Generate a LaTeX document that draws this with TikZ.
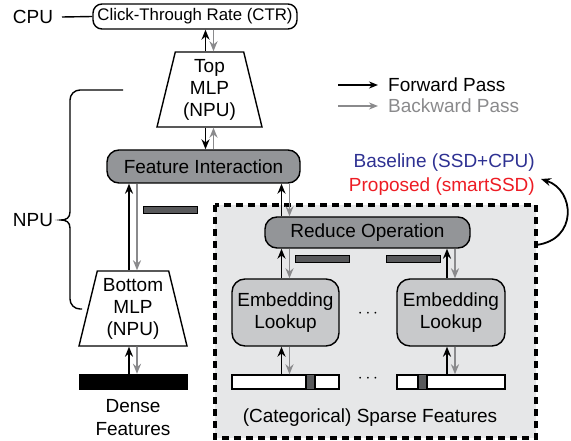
\documentclass[tikz,border=0pt]{standalone}
\usepackage{fontspec}
\setmainfont{Liberation Sans}
\usetikzlibrary{arrows.meta,shapes.geometric,calc}
\definecolor{bwd}{RGB}{138,138,140}
\definecolor{opgray}{RGB}{147,149,152}
\definecolor{embgray}{RGB}{200,201,203}
\definecolor{boxbg}{RGB}{230,231,232}
\definecolor{bargray}{RGB}{88,89,91}
\definecolor{baseblue}{RGB}{46,49,146}
\definecolor{propred}{RGB}{237,28,36}
\tikzset{
  fwd/.style={draw=black,line width=1.8pt,-{Stealth[length=10pt,width=8pt]}},
  bkw/.style={draw=bwd,line width=1.8pt,-{Stealth[length=10pt,width=8pt]}},
  opbox/.style={draw,line width=1.4pt,rounded corners=12pt,fill=opgray,inner sep=0pt},
  embbox/.style={draw,line width=1.4pt,rounded corners=13pt,fill=embgray,inner sep=0pt,align=center},
  mlp/.style={draw,line width=1.4pt,fill=white,trapezium,trapezium stretches body,
    trapezium angle=73.3,minimum height=75pt,inner sep=0pt,align=center},
  gradbar/.style={draw,line width=1pt,fill=bargray,minimum width=54pt,minimum height=7pt,inner sep=0pt},
  featbar/.style={draw,line width=1.4pt,fill=white,minimum width=107pt,minimum height=14pt,inner sep=0pt},
}
\newcommand{\fsz}{\fontsize{19}{22}\selectfont}
\begin{document}
\begin{tikzpicture}[x=1pt,y=-1pt,font=\fsz]
\useasboundingbox (0,0) rectangle (571,441);
% sparse part (SSD side)
\draw[line width=3.5pt,dash pattern=on 7pt off 5pt,fill=boxbg] (215,205) rectangle (536,438);
% top of the model
\node (cpu) at (33,17) {CPU};
\node[draw,line width=1.4pt,rounded corners=9pt,minimum width=204pt,minimum height=25pt,inner sep=0pt,
  font=\fontsize{16.8}{20}\selectfont] (ctr) at (195,16.5) {Click-Through Rate (CTR)};
\coordinate (cpuend) at (62,17);
\draw[line width=1.4pt] (cpuend) -- (ctr.west);
\node[mlp,minimum width=105pt] (top) at (209.5,89.5) {Top\\MLP\\(NPU)};
\node[opbox,minimum width=193pt,minimum height=33pt] (feat) at (203.5,166.5) {Feature Interaction};
\node[mlp,minimum width=108pt] (bot) at (133,308.5) {Bottom\\MLP\\(NPU)};
\node[draw,fill=black,minimum width=108pt,minimum height=15pt,inner sep=0pt] (dense) at (133,381.5) {};
\node[align=center,font=\fontsize{19}{23}\selectfont] (densetxt) at (133,418) {Dense\\Features};
% sparse side
\node[opbox,minimum width=205pt,minimum height=31pt] (reduce) at (367.5,232.5) {Reduce Operation};
\node[embbox,minimum width=107pt,minimum height=67pt] (emb1) at (285.5,312.5) {Embedding\\Lookup};
\node[embbox,minimum width=108pt,minimum height=67pt] (emb2) at (451,312.5) {Embedding\\Lookup};
\node (dots1) at (368,314) {$\cdots$};
\node[featbar] (sp1) at (285.5,382) {};
\node[featbar,minimum width=108pt] (sp2) at (451,382) {};
\fill[bargray] (306,375) rectangle (315,389);
\draw[line width=1.4pt] (306,375) -- (306,389) (315,375) -- (315,389);
\fill[bargray] (418,375) rectangle (427,389);
\draw[line width=1.4pt] (418,375) -- (418,389) (427,375) -- (427,389);
\node (dots2) at (368,379) {$\cdots$};
\node (sparsetxt) at (370,418) {(Categorical) Sparse Features};
% gradient bars
\node[gradbar] (g1) at (170,210.5) {};
\node[gradbar] (g2) at (322,259.5) {};
\node[gradbar] (g3) at (413,259.5) {};
% forward / backward connectors
\draw[fwd] ([xshift=-4pt]top.north) -- ([xshift=-4pt]top.north |- ctr.south);
\draw[bkw] ([xshift=4pt]top.north |- ctr.south) -- ([xshift=4pt]top.north);
\draw[fwd] ([xshift=-4pt]top.south) -- ([xshift=-4pt]top.south |- feat.north);
\draw[bkw] ([xshift=4pt]top.south |- feat.north) -- ([xshift=4pt]top.south);
\draw[fwd] ([xshift=-4pt]bot.north) -- ([xshift=-4pt]bot.north |- feat.south);
\draw[bkw] ([xshift=4pt]bot.north |- feat.south) -- ([xshift=4pt]bot.north);
\draw[fwd] ([xshift=-4pt]dense.north) -- ([xshift=-4pt]bot.south);
\draw[bkw] ([xshift=4pt]bot.south) -- ([xshift=4pt]dense.north);
\draw[fwd] ([xshift=-4pt]reduce.north -| emb1.north) -- ([xshift=-4pt]emb1.north |- feat.south);
\draw[bkw] ([xshift=4pt]emb1.north |- feat.south) -- ([xshift=4pt]reduce.north -| emb1.north);
\foreach \e/\s in {emb1/sp1,emb2/sp2}{
  \draw[fwd] ([xshift=-4pt]\e.north) -- ([xshift=-4pt]\e.north |- reduce.south);
  \draw[bkw] ([xshift=4pt]\e.north |- reduce.south) -- ([xshift=4pt]\e.north);
  \draw[fwd] ([xshift=-4pt]\s.north) -- ([xshift=-4pt]\e.south);
  \draw[bkw] ([xshift=4pt]\e.south) -- ([xshift=4pt]\s.north);
}
% legend
\coordinate (lf0) at (338,85); \coordinate (lf1) at (378,85);
\coordinate (lb0) at (338,106); \coordinate (lb1) at (378,106);
\draw[line width=1.6pt,-{Stealth[length=9pt,width=7pt]}] (lf0) -- (lf1);
\draw[draw=bwd,line width=1.6pt,-{Stealth[length=9pt,width=7pt]}] (lb0) -- (lb1);
\node[anchor=west,inner sep=0pt] (fwdtxt) at (388,85) {Forward Pass};
\node[anchor=west,inner sep=0pt,text=bwd] (bwdtxt) at (388,106) {Backward Pass};
% baseline vs proposed
\node[anchor=east,inner sep=0pt,text=baseblue] (base) at (535,163) {Baseline (SSD+CPU)};
\node[anchor=east,inner sep=0pt,text=propred] (prop) at (535,187) {Proposed (smartSSD)};
\coordinate (ssdout) at (536,245);
\coordinate (ssdtip) at (541,179);
\draw[line width=1.8pt,-{Stealth[length=10pt,width=8pt]}] (ssdout) .. controls (578,240) and (575,190) .. (ssdtip);
% NPU brace
\coordinate (brtop) at (123,90);
\coordinate (brbot) at (82,309);
\node (npu) at (33,220) {NPU};
\draw[line width=1.4pt,rounded corners=10pt] (brtop) -- (70,90) -- (70,212);
\draw[line width=1.4pt] (70,212) .. controls (70,218) and (66,220) .. (61,220) .. controls (66,220) and (70,222) .. (70,228);
\draw[line width=1.4pt,rounded corners=10pt] (70,228) -- (70,309) -- (brbot);
\end{tikzpicture}
\end{document}
